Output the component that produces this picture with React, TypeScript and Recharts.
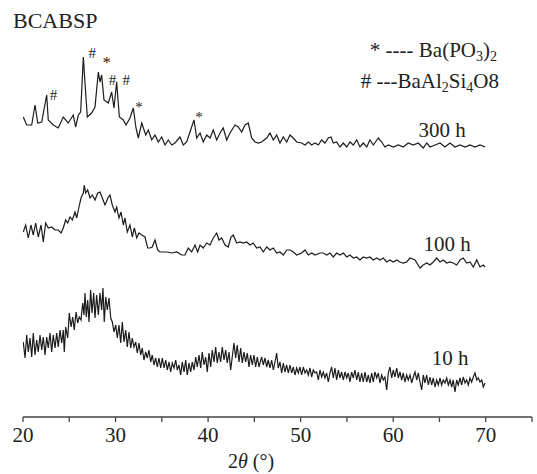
import { LineChart, Line, XAxis, YAxis } from 'recharts';

// 2θ positions and intensities (a.u.)
const angles300 = [
  20.03, 20.4, 20.94, 21.3, 21.59, 22.02, 22.56, 22.73, 23.27, 23.81, 24.35, 24.89, 25.43, 25.69, 25.98, 26.23,
  26.52, 26.7, 26.95, 27.42, 27.78, 28.14, 28.32, 28.5, 28.75, 29.22, 29.58, 29.83, 30.12, 30.41, 30.84, 31.13,
  31.56, 31.92, 32.21, 32.46, 32.83, 33.26, 33.54, 33.91, 34.26, 34.62, 34.99, 35.35, 35.7, 36.07, 36.42, 36.96,
  37.32, 37.69, 38.04, 38.48, 38.77, 39.13, 39.48, 39.85, 40.21, 40.56, 40.93, 41.29, 41.64, 42.01, 42.37, 42.91,
  43.26, 43.63, 43.99, 44.34, 44.71, 45.07, 45.42, 45.79, 46.33, 46.69, 47.05, 47.41, 47.77, 48.13, 48.49, 48.85,
  49.21, 49.57, 50.11, 50.47, 50.83, 51.19, 51.55, 51.91, 52.27, 52.63, 52.99, 53.28, 53.53, 53.89, 54.25, 54.61,
  54.98, 55.33, 55.69, 56.06, 56.41, 56.77, 57.14, 57.49, 57.85, 58.39, 58.76, 59.11, 59.47, 60.01, 60.55, 61.09,
  61.63, 62.17, 62.71, 63.25, 63.62, 63.98, 64.52, 65.06, 65.6, 66.14, 66.68, 67.22, 67.76, 68.3, 68.84, 69.38,
  69.92,
];
const counts300 = [
  300, 292, 292, 312, 294, 295, 322, 297, 292, 289, 300, 294, 302, 290, 302, 305,
  360, 334, 300, 304, 310, 345, 335, 342, 317, 314, 325, 309, 335, 300, 297, 292,
  299, 309, 289, 279, 294, 282, 287, 277, 282, 275, 280, 272, 277, 272, 274, 280,
  272, 275, 285, 297, 279, 284, 275, 282, 279, 287, 277, 284, 289, 277, 284, 292,
  290, 285, 292, 294, 279, 275, 274, 275, 279, 284, 277, 282, 274, 280, 275, 282,
  279, 275, 274, 272, 275, 272, 274, 272, 277, 274, 279, 280, 274, 275, 270, 274,
  270, 275, 272, 277, 270, 274, 270, 277, 272, 279, 275, 270, 272, 270, 272, 270,
  274, 272, 274, 269, 274, 270, 272, 274, 270, 274, 270, 272, 270, 272, 270, 272,
  270,
];

const angles100 = [
  20.03, 20.29, 20.57, 20.86, 21.11, 21.37, 21.65, 21.95, 22.19, 22.45, 22.73, 23.1, 23.46, 23.81, 24.11, 24.35,
  24.61, 24.83, 25.08, 25.33, 25.62, 25.8, 26.05, 26.27, 26.52, 26.62, 26.77, 26.99, 27.24, 27.49, 27.78, 28.07,
  28.32, 28.57, 28.86, 29.22, 29.4, 29.65, 29.94, 30.12, 30.37, 30.59, 30.84, 31.02, 31.27, 31.56, 31.81, 32.03,
  32.29, 32.53, 32.83, 33.18, 33.47, 33.72, 33.97, 34.26, 34.55, 34.8, 35.16, 35.53, 36.07, 36.61, 37.15, 37.5,
  37.86, 38.23, 38.58, 38.88, 39.13, 39.48, 39.85, 40.21, 40.56, 40.93, 41.18, 41.47, 41.83, 42.18, 42.47, 42.72,
  43.09, 43.45, 43.8, 44.17, 44.53, 44.88, 45.25, 45.61, 45.96, 46.33, 46.69, 47.05, 47.41, 47.77, 48.13, 48.49,
  48.85, 49.21, 49.57, 50.11, 50.47, 50.83, 51.19, 51.55, 52.09, 52.45, 52.81, 53.17, 53.53, 53.89, 54.25, 54.61,
  54.98, 55.33, 55.69, 56.06, 56.41, 56.77, 57.14, 57.49, 57.85, 58.22, 58.57, 58.93, 59.3, 59.65, 60.01, 60.38,
  60.73, 61.09, 61.46, 61.82, 62.36, 62.9, 63.25, 63.62, 63.98, 64.33, 64.7, 65.06, 65.41, 65.78, 66.14, 66.49,
  66.86, 67.22, 67.57, 67.94, 68.3, 68.66, 69.03, 69.38, 69.74, 69.92,
];
const counts100 = [
  185, 192, 179, 192, 182, 194, 180, 192, 175, 194, 189, 190, 187, 187, 184, 189,
  197, 194, 200, 197, 205, 199, 210, 219, 224, 232, 224, 227, 219, 222, 217, 224,
  225, 219, 212, 220, 222, 212, 205, 210, 199, 205, 192, 199, 185, 192, 180, 189,
  179, 184, 182, 180, 169, 169, 170, 177, 167, 165, 165, 165, 164, 165, 162, 162,
  169, 165, 172, 165, 172, 169, 174, 172, 179, 184, 177, 179, 172, 170, 180, 182,
  174, 175, 174, 175, 172, 174, 169, 170, 165, 170, 167, 169, 164, 165, 162, 167,
  167, 165, 162, 164, 167, 162, 164, 162, 164, 164, 162, 164, 160, 164, 162, 164,
  160, 162, 159, 160, 157, 160, 159, 160, 157, 159, 157, 159, 155, 157, 155, 157,
  155, 154, 155, 159, 157, 149, 152, 154, 152, 155, 159, 155, 157, 154, 155, 154,
  152, 157, 159, 154, 155, 150, 157, 150, 152, 150,
];

const angles10 = [
  20.03, 20.22, 20.4, 20.57, 20.76, 20.94, 21.11, 21.3, 21.48, 21.65, 21.84, 22.02, 22.19, 22.38, 22.56, 22.73,
  22.92, 23.1, 23.27, 23.46, 23.64, 23.81, 24.0, 24.18, 24.35, 24.46, 24.61, 24.83, 25.0, 25.19, 25.37, 25.54,
  25.73, 25.91, 26.08, 26.27, 26.45, 26.59, 26.7, 26.84, 26.99, 27.13, 27.31, 27.46, 27.64, 27.78, 27.96, 28.14,
  28.32, 28.5, 28.64, 28.78, 28.94, 29.11, 29.29, 29.48, 29.65, 29.83, 30.02, 30.19, 30.37, 30.56, 30.73, 30.91,
  31.1, 31.27, 31.45, 31.64, 31.81, 31.99, 32.18, 32.35, 32.53, 32.72, 32.89, 33.07, 33.26, 33.43, 33.61, 33.8,
  33.97, 34.15, 34.34, 34.51, 34.69, 34.88, 35.05, 35.24, 35.42, 35.59, 35.78, 35.96, 36.13, 36.32, 36.5, 36.67,
  36.86, 37.04, 37.21, 37.4, 37.58, 37.75, 37.94, 38.12, 38.29, 38.48, 38.66, 38.83, 39.02, 39.2, 39.37, 39.56,
  39.74, 39.91, 40.1, 40.28, 40.45, 40.64, 40.82, 40.99, 41.18, 41.36, 41.53, 41.72, 41.9, 42.07, 42.26, 42.44,
  42.61, 42.8, 42.98, 43.15, 43.34, 43.52, 43.69, 43.88, 44.06, 44.24, 44.42, 44.6, 44.78, 44.96, 45.14, 45.32,
  45.5, 45.61, 45.79, 45.96, 46.15, 46.33, 46.5, 46.69, 46.87, 47.05, 47.23, 47.41, 47.58, 47.77, 47.95, 48.13,
  48.31, 48.49, 48.67, 48.85, 49.03, 49.21, 49.39, 49.57, 49.75, 49.93, 50.11, 50.29, 50.47, 50.65, 50.83, 51.01,
  51.19, 51.37, 51.55, 51.73, 51.91, 52.09, 52.27, 52.45, 52.63, 52.81, 52.99, 53.17, 53.35, 53.53, 53.71, 53.89,
  54.07, 54.25, 54.43, 54.61, 54.8, 54.98, 55.15, 55.33, 55.51, 55.69, 55.87, 56.06, 56.23, 56.41, 56.59, 56.77,
  56.95, 57.14, 57.31, 57.49, 57.68, 57.85, 58.03, 58.22, 58.39, 58.57, 58.76, 58.93, 59.11, 59.3, 59.47, 59.65,
  59.84, 60.01, 60.19, 60.38, 60.55, 60.73, 60.92, 61.09, 61.27, 61.46, 61.63, 61.82, 62.0, 62.17, 62.36, 62.54,
  62.71, 62.9, 63.08, 63.25, 63.44, 63.62, 63.8, 63.98, 64.16, 64.33, 64.52, 64.7, 64.88, 65.06, 65.24, 65.41,
  65.6, 65.78, 65.96, 66.14, 66.32, 66.49, 66.68, 66.86, 67.03, 67.22, 67.4, 67.57, 67.76, 67.94, 68.12, 68.3,
  68.48, 68.66, 68.84, 69.03, 69.2, 69.38, 69.57, 69.74, 69.92,
];
const counts10 = [
  75, 59, 82, 65, 79, 60, 84, 62, 77, 65, 82, 67, 80, 62, 80, 69,
  84, 65, 82, 69, 84, 70, 87, 74, 87, 65, 90, 79, 104, 90, 100, 87,
  105, 94, 100, 97, 114, 102, 124, 100, 117, 95, 127, 104, 124, 99, 122, 102,
  124, 107, 129, 95, 120, 107, 119, 99, 95, 85, 92, 79, 92, 74, 95, 75,
  87, 70, 85, 69, 79, 70, 75, 64, 74, 62, 69, 57, 65, 59, 67, 55,
  62, 52, 59, 50, 59, 49, 59, 49, 57, 47, 55, 45, 54, 49, 57, 47,
  52, 42, 55, 45, 57, 42, 54, 45, 55, 47, 60, 50, 62, 49, 65, 52,
  60, 45, 64, 50, 67, 55, 70, 54, 65, 55, 70, 57, 67, 54, 65, 47,
  60, 74, 59, 72, 55, 69, 54, 65, 55, 64, 50, 62, 52, 62, 50, 60,
  50, 54, 60, 52, 59, 50, 57, 49, 57, 47, 55, 64, 49, 55, 44, 54,
  45, 52, 44, 52, 44, 50, 42, 49, 44, 50, 42, 50, 44, 47, 42, 49,
  40, 47, 44, 45, 37, 47, 40, 45, 39, 44, 35, 44, 50, 39, 49, 37,
  47, 39, 45, 37, 45, 39, 44, 35, 45, 39, 47, 37, 45, 35, 44, 35,
  45, 35, 42, 34, 44, 35, 45, 39, 44, 34, 42, 37, 40, 27, 44, 50,
  39, 47, 40, 49, 39, 45, 37, 44, 35, 42, 37, 42, 34, 40, 45, 37,
  44, 35, 27, 42, 34, 42, 32, 40, 32, 39, 30, 37, 32, 39, 32, 37,
  34, 39, 32, 37, 30, 37, 25, 37, 32, 39, 32, 40, 34, 37, 32, 39,
  35, 40, 44, 37, 39, 35, 37, 30, 34,
];

const xTicks = [20, 25, 30, 35, 40, 45, 50, 55, 60, 65, 70, 75];

const series = [
  { name: '300 h', angles: angles300, counts: counts300 },
  { name: '100 h', angles: angles100, counts: counts100 },
  { name: '10 h', angles: angles10, counts: counts10 },
];

const FONT = '"Liberation Serif", "Times New Roman", serif';
const INK = '#222';

const toPoints = (angles: number[], counts: number[]) =>
  angles.map((theta, i) => ({ theta, v: counts[i] }));

const AxisTick = ({ x, y, payload }: any) => {
  if (payload.value % 10 !== 0 || payload.value > 70) return <g />;
  return (
    <text x={x} y={y} dy="0.71em" textAnchor="middle" fontFamily={FONT} fontSize={21} fill={INK}>
      {payload.value}
    </text>
  );
};

const App = () => {
  return (
    <div style={{ position: 'absolute', left: 0, top: 0, width: 537, height: 474, background: '#fff' }}>
      <LineChart width={537} height={474} margin={{ top: 0, right: 5, left: 23, bottom: 0 }}>
        <XAxis
          type="number"
          dataKey="theta"
          domain={[20, 75]}
          ticks={xTicks}
          allowDataOverflow
          height={57}
          tickSize={5}
          tickMargin={5}
          tick={<AxisTick />}
          axisLine={{ stroke: '#444', strokeWidth: 1.3 }}
          tickLine={{ stroke: '#444', strokeWidth: 1.3 }}
        />
        <YAxis type="number" domain={[0, 417]} hide />
        {series.map((s) => (
          <Line
            key={s.name}
            data={toPoints(s.angles, s.counts)}
            dataKey="v"
            type="linear"
            stroke="#1c1c1c"
            strokeWidth={1.2}
            dot={false}
            isAnimationActive={false}
          />
        ))}
      </LineChart>

      <svg
        width={537}
        height={474}
        style={{ position: 'absolute', left: 0, top: 0, pointerEvents: 'none' }}
        fontFamily={FONT}
        fill={INK}
      >
        <text x={13} y={28} fontSize={22}>BCABSP</text>

        <text x={497} y={57} fontSize={21} textAnchor="end">
          * ---- Ba(PO<tspan fontSize={14} dy={4}>3</tspan>
          <tspan dy={-4}>)</tspan>
          <tspan fontSize={14} dy={4}>2</tspan>
        </text>
        <text x={499} y={88} fontSize={21} textAnchor="end">
          # ---BaAl<tspan fontSize={14} dy={4}>2</tspan>
          <tspan dy={-4}>Si</tspan>
          <tspan fontSize={14} dy={4}>4</tspan>
          <tspan dy={-4}>O8</tspan>
        </text>

        <text x={442} y={137} fontSize={21} textAnchor="middle">300 h</text>
        <text x={447} y={251} fontSize={21} textAnchor="middle">100 h</text>
        <text x={450} y={365} fontSize={21} textAnchor="middle">10 h</text>

        <g fontSize={15} textAnchor="middle">
          <text x={53.5} y={100}>#</text>
          <text x={92.3} y={58}>#</text>
          <text x={106.7} y={68} fontSize={17}>*</text>
          <text x={112.5} y={84.5}>#</text>
          <text x={126.3} y={85}>#</text>
          <text x={139} y={112}>*</text>
          <text x={199} y={122}>*</text>
        </g>

        <text x={251} y={468} fontSize={20} textAnchor="middle">
          2<tspan fontStyle="italic">θ</tspan> (°)
        </text>
      </svg>
    </div>
  );
};

export default App;
